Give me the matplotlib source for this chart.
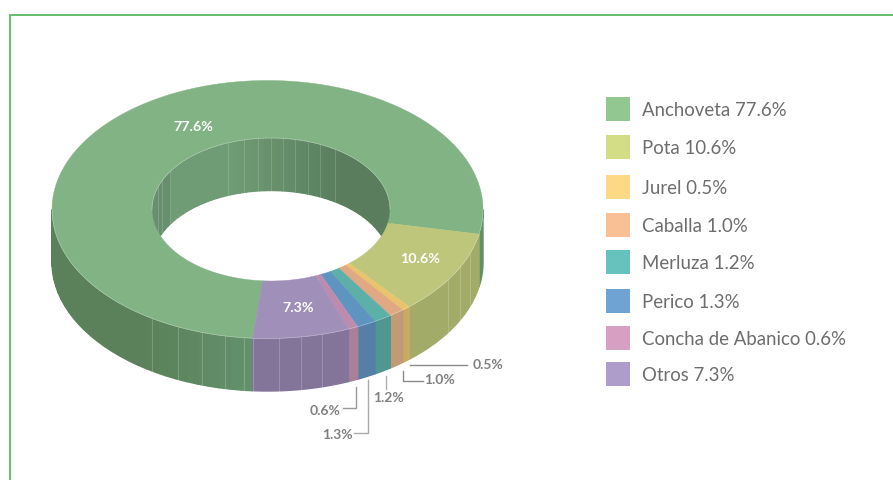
import numpy as np
import matplotlib
matplotlib.use("Agg")
import matplotlib.pyplot as plt
from matplotlib.patches import Rectangle

# datos del grafico
especies = ["Anchoveta", "Pota", "Jurel", "Caballa", "Merluza", "Perico", "Concha de Abanico", "Otros"]
valores = [77.6, 10.6, 0.5, 1.0, 1.2, 1.3, 0.6, 7.3]

# colores
c_leyenda = ["#92c88f", "#d2dd85", "#fdd985", "#f9bf95", "#66c2bc", "#6ea3d3", "#d7a0c2", "#ae9dca"]
c_tapa = ["#82b384", "#bdc67a", "#e8c56c", "#e0a983", "#5cb0a8", "#5e94c0", "#bb8cae", "#a08fb8"]
c_lado = ["#5b8460", "#a2ab68", "#c9aa62", "#c29a75", "#4f9790", "#5480a8", "#a97f9a", "#83749a"]

# geometria en pixeles
cx, cy, rx, ry = 267.5, 210.5, 215.5, 129
cxi, cyi, rxi, ryi = 271, 210.5, 119, 71.5
alto = 52.5
inicio = 11
extra_chicas = 0.15  # las tajadas chicas se ven un poco mas anchas

fig = plt.figure(figsize=(8.93, 4.81), dpi=100)
ax = fig.add_axes([0, 0, 1, 1])
ax.set_xlim(0, 893)
ax.set_ylim(481, 0)
ax.axis("off")

# marco
ax.plot([893, 9.5, 9.5], [15.5, 15.5, 481], color="#66bd6b", lw=1.4, solid_joinstyle="miter")


def arco(x0, y0, a, b, t0, t1):
    t = np.radians(np.linspace(t0, t1, max(int(abs(t1 - t0)) * 2, 3)))
    return x0 + a * np.cos(t), y0 + b * np.sin(t)


def mezcla(c1, c2, f):
    a = np.array(matplotlib.colors.to_rgb(c1))
    b = np.array(matplotlib.colors.to_rgb(c2))
    return a + (b - a) * np.clip(f, 0, 1)


def pared(x0, y0, a, b, t0, t1, col, z):
    xs, ys = arco(x0, y0, a, b, t0, t1)
    ax.fill(np.r_[xs, xs[::-1]], np.r_[ys, ys[::-1] + alto], fc=col, ec=col, lw=1, zorder=z)


# limites de cada tajada
dibujo = np.array([v + extra_chicas if v < 2 else v for v in valores])
dibujo = dibujo * 100 / dibujo.sum()
limites = [(inicio - 360 * dibujo[0] / 100, inicio)]
a0 = inicio
for d in dibujo[1:]:
    limites.append((a0, a0 + 360 * d / 100))
    a0 += 360 * d / 100

# pared interior (solo la mitad de atras se ve)
for t in np.arange(180, 360, 3):
    xm = cxi + rxi * np.cos(np.radians(t))
    if xm < 170:
        col = "#688f6d"
    else:
        col = mezcla("#6f9c74", "#597d5d", (xm - 230) / 110)
    pared(cxi, cyi, rxi, ryi, t, t + 3, col, 2)

for x in [158, 162, 170, 228, 244, 258, 271, 283, 295, 308, 320, 335]:
    t = -np.arccos((x - cxi) / rxi)
    y = cyi + ryi * np.sin(t)
    ax.plot([x, x], [y, y + alto], color="white", alpha=0.16, lw=0.7, zorder=3)

# pared exterior (mitad de adelante)
for i, (t0, t1) in enumerate(limites):
    if i == 0:
        # anchoveta: dos trozos, con degradado
        for s in np.arange(94, 180, 3):
            xm = cx + rx * np.cos(np.radians(s))
            col = mezcla("#62906a", "#5a8159", (250 - xm) / 100)
            pared(cx, cy, rx, ry, s, min(s + 3, 180), col, 4)
        pared(cx, cy, rx, ry, 0, inicio, "#5f9068", 4)
    else:
        pared(cx, cy, rx, ry, max(t0, 0), min(t1, 180), c_lado[i], 4 + i * 0.01)

for x in [152, 178, 202, 225, 244, 253, 279, 301, 322, 448, 460, 470]:
    t = np.arccos((x - cx) / rx)
    y = cy + ry * np.sin(t)
    ax.plot([x, x], [y, y + alto], color="white", alpha=0.2, lw=0.7, zorder=5)

# cara superior
for i, (t0, t1) in enumerate(limites):
    xo, yo = arco(cx, cy, rx, ry, t0, t1)
    xi, yi = arco(cxi, cyi, rxi, ryi, t1, t0)
    ax.fill(np.r_[xo, xi], np.r_[yo, yi], color=c_tapa[i], lw=0.3, zorder=6)

xs, ys = arco(cx, cy, rx, ry, 0, 180)
ax.plot(xs, ys, color="white", alpha=0.4, lw=0.5, zorder=7)
xs, ys = arco(cxi, cyi, rxi, ryi, 180, 360)
ax.plot(xs, ys, color="white", alpha=0.4, lw=0.5, zorder=7)

fuente = "Lato"

# etiquetas sobre la dona
for txt, x, y in [("77.6%", 193, 127), ("10.6%", 420, 259), ("7.3%", 298, 308)]:
    ax.text(x, y, txt, color="white", fontsize=10.3, fontweight="bold", family=fuente,
            ha="center", va="center", zorder=8)

# lineas guia y etiquetas chicas
guias = [
    ([410, 467], [366, 366], "#8a8a8a"),
    ([402.5, 402.5, 423], [372, 382, 382], "#8a8a8a"),
    ([386, 386], [377, 390], "#b0b0b0"),
    ([356, 356, 343], [388, 409, 409], "#999999"),
    ([368, 368, 354], [381, 433.5, 433.5], "#aaaaaa"),
]
for gx, gy, col in guias:
    ax.plot(gx, gy, color=col, lw=1, zorder=3, solid_joinstyle="miter")

chicas = [("0.5%", 488, 365.5), ("1.0%", 439, 380.5), ("1.2%", 388, 398), ("0.6%", 325, 411), ("1.3%", 337, 435.5)]
for txt, x, y in chicas:
    ax.text(x, y, txt, color="#808080", fontsize=10, fontweight="bold", family=fuente,
            ha="center", va="center", zorder=8)

# leyenda
y_ley = [110, 148, 188, 226, 263, 302, 339, 375]
for i, esp in enumerate(especies):
    ax.add_patch(Rectangle((606, y_ley[i] - 12), 24, 24, color=c_leyenda[i], lw=0, zorder=3))
    ax.text(642, y_ley[i] + 0.5, f"{esp} {valores[i]}%", color="#6d6d6d", fontsize=13.4, family=fuente,
            ha="left", va="center", zorder=3)

fig.savefig("out.png", dpi=100, facecolor="white")
